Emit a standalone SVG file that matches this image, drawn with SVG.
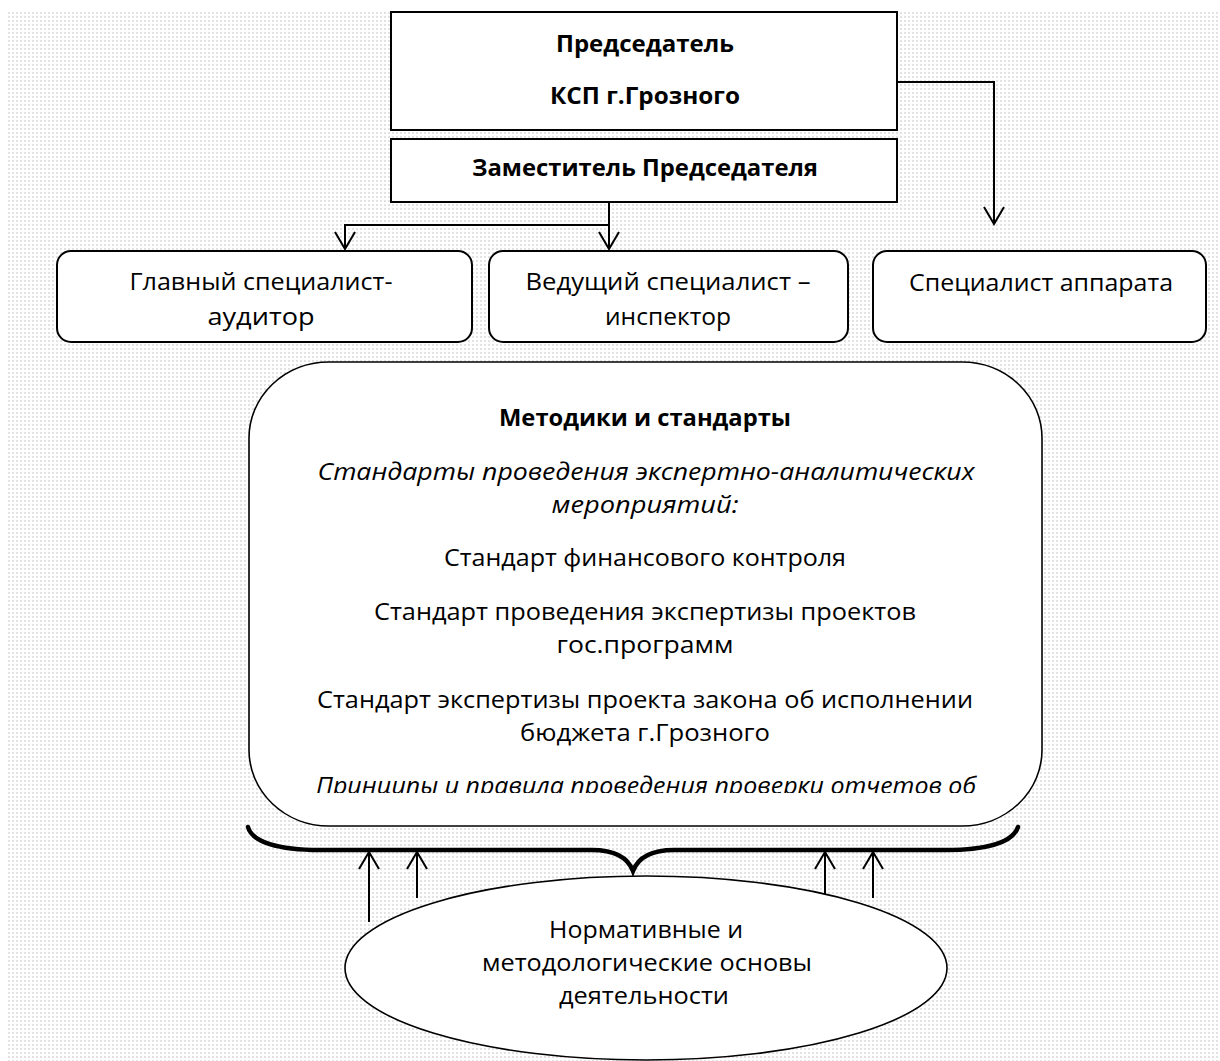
<svg xmlns="http://www.w3.org/2000/svg" width="1220" height="1061" viewBox="0 0 1220 1061">
<style>
  .box { fill: #ffffff; stroke: #000; stroke-width: 2; }
  .rbox { fill: #ffffff; stroke: #000; stroke-width: 2; }
  .big { fill: #ffffff; stroke: #000; stroke-width: 1.6; }
  .conn { fill: none; stroke: #000; stroke-width: 2; }
  .brace { fill: none; stroke: #000; stroke-width: 4.5; stroke-linecap: round; }
  text { font-family: "Open Sans", "Noto Sans", "Liberation Sans", sans-serif; font-size: 23px; fill: #000; text-anchor: middle; }
  .b { font-weight: bold; }
  .i { font-style: italic; }
</style>
<defs>
  <pattern id="dots" x="0" y="0" width="4" height="4" patternUnits="userSpaceOnUse">
    <rect x="0" y="0" width="2" height="2" fill="#e2e2e2"/>
  </pattern>
  <marker id="arr" viewBox="-19 -11 21 22" refX="0" refY="0" markerWidth="21" markerHeight="22" markerUnits="userSpaceOnUse" orient="auto">
    <path d="M-17,-10 L0,0 L-17,10" fill="none" stroke="#000" stroke-width="2"/>
  </marker>
  <clipPath id="bigclip">
    <rect x="249" y="362" width="793" height="431"/>
  </clipPath>
</defs>

<rect x="0" y="0" width="1220" height="1061" fill="#ffffff"/>
<rect x="8" y="10" width="1212" height="1051" fill="url(#dots)"/>

<g id="connectors">
  <polyline class="conn" points="897,82 994,82 994,224" marker-end="url(#arr)"/>
  <polyline class="conn" points="609,202 609,249" marker-end="url(#arr)"/>
  <polyline class="conn" points="609,225 345,225 345,249" marker-end="url(#arr)"/>
  <path class="brace" d="M248,827 C252,842 278,850 320,850 L592,850 C616,850 628,858 633,871 C638,858 650,850 674,850 L946,850 C988,850 1013,842 1018,827"/>
  <line class="conn" x1="369" y1="922" x2="369" y2="852" marker-end="url(#arr)"/>
  <line class="conn" x1="417" y1="898" x2="417" y2="852" marker-end="url(#arr)"/>
  <line class="conn" x1="825" y1="898" x2="825" y2="852" marker-end="url(#arr)"/>
  <line class="conn" x1="873" y1="898" x2="873" y2="852" marker-end="url(#arr)"/>
</g>

<g id="chairman">
  <rect class="box" x="391" y="12" width="506" height="118"/>
  <text class="b" x="645" y="52" textLength="178" lengthAdjust="spacingAndGlyphs">Председатель</text>
  <text class="b" x="645" y="104" textLength="190" lengthAdjust="spacingAndGlyphs">КСП г.Грозного</text>
</g>

<g id="deputy">
  <rect class="box" x="391" y="139" width="506" height="63"/>
  <text class="b" x="645" y="176" textLength="346" lengthAdjust="spacingAndGlyphs">Заместитель Председателя</text>
</g>

<g id="auditor">
  <rect class="rbox" x="57" y="251" width="415" height="91" rx="14" ry="14"/>
  <text x="261" y="290" textLength="263" lengthAdjust="spacingAndGlyphs">Главный специалист-</text>
  <text x="261" y="325" textLength="107" lengthAdjust="spacingAndGlyphs">аудитор</text>
</g>

<g id="inspector">
  <rect class="rbox" x="489" y="251" width="359" height="91" rx="14" ry="14"/>
  <text x="668" y="290" textLength="285" lengthAdjust="spacingAndGlyphs">Ведущий специалист –</text>
  <text x="668" y="325" textLength="126" lengthAdjust="spacingAndGlyphs">инспектор</text>
</g>

<g id="staff">
  <rect class="rbox" x="873" y="251" width="333" height="91" rx="14" ry="14"/>
  <text x="1041" y="291" textLength="264" lengthAdjust="spacingAndGlyphs">Специалист аппарата</text>
</g>

<g id="methods">
  <rect class="big" x="249" y="362" width="793" height="464" rx="80" ry="76"/>
  <g clip-path="url(#bigclip)">
    <text class="b" x="645" y="426" textLength="292" lengthAdjust="spacingAndGlyphs">Методики и стандарты</text>
    <text class="i" x="646" y="480" textLength="657" lengthAdjust="spacingAndGlyphs">Стандарты проведения экспертно-аналитических</text>
    <text class="i" x="645" y="513" textLength="187" lengthAdjust="spacingAndGlyphs">мероприятий:</text>
    <text x="645" y="566" textLength="402" lengthAdjust="spacingAndGlyphs">Стандарт финансового контроля</text>
    <text x="645" y="620" textLength="542" lengthAdjust="spacingAndGlyphs">Стандарт проведения экспертизы проектов</text>
    <text x="645" y="653" textLength="177" lengthAdjust="spacingAndGlyphs">гос.программ</text>
    <text x="645" y="708" textLength="656" lengthAdjust="spacingAndGlyphs">Стандарт экспертизы проекта закона об исполнении</text>
    <text x="645" y="741" textLength="250" lengthAdjust="spacingAndGlyphs">бюджета г.Грозного</text>
    <text class="i" x="646" y="794" textLength="660" lengthAdjust="spacingAndGlyphs">Принципы и правила проведения проверки отчетов об</text>
  </g>
</g>

<g id="basis">
  <ellipse class="big" cx="646" cy="968" rx="301" ry="92"/>
  <text x="646" y="938" textLength="194" lengthAdjust="spacingAndGlyphs">Нормативные и</text>
  <text x="647" y="971" textLength="330" lengthAdjust="spacingAndGlyphs">методологические основы</text>
  <text x="644" y="1004" textLength="170" lengthAdjust="spacingAndGlyphs">деятельности</text>
</g>
</svg>
